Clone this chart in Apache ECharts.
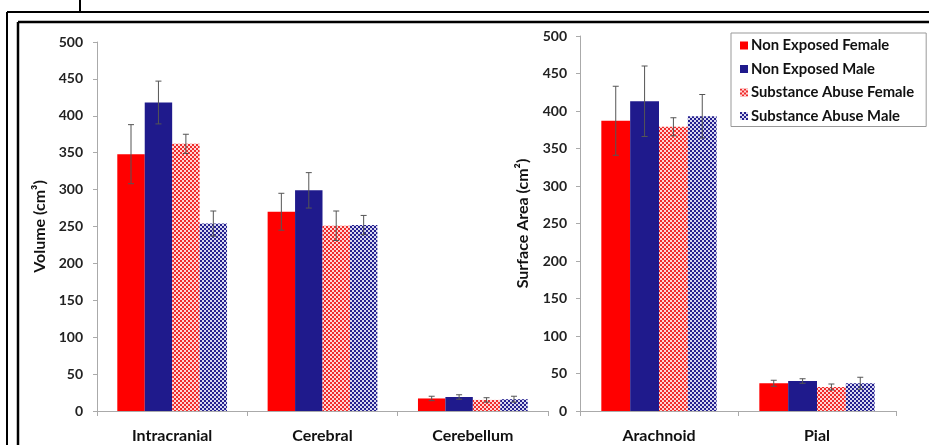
<!DOCTYPE html>
<html>
<head>
<meta charset="utf-8">
<script src="https://cdn.jsdelivr.net/npm/echarts@6/dist/echarts.min.js"></script>
<style>
html,body{margin:0;padding:0;background:#fff;}
#c{width:929px;height:445px;}
</style>
</head>
<body>
<div id="c"></div>
<script>
// ---- data ----
var volumeCategories = ['Intracranial', 'Cerebral', 'Cerebellum'];
var surfaceCategories = ['Arachnoid', 'Pial'];
var seriesNames = ['Non Exposed Female', 'Non Exposed Male', 'Substance Abuse Female', 'Substance Abuse Male'];

var volNonExposedFemale = [348, 270, 17];
var volNonExposedMale = [418, 299, 19];
var volAbuseFemale = [362, 251, 15];
var volAbuseMale = [254, 252, 16];
var volErrNonExposedFemale = [40, 25, 3];
var volErrNonExposedMale = [29, 24, 3];
var volErrAbuseFemale = [13, 20, 3];
var volErrAbuseMale = [17, 13, 4];

var areaNonExposedFemale = [387, 37];
var areaNonExposedMale = [413, 40];
var areaAbuseFemale = [379, 32];
var areaAbuseMale = [393, 37];
var areaErrNonExposedFemale = [46, 4];
var areaErrNonExposedMale = [47, 3];
var areaErrAbuseFemale = [12, 4];
var areaErrAbuseMale = [29, 8];

var yTicks = [0, 50, 100, 150, 200, 250, 300, 350, 400, 450, 500];

// ---- patterns ----
function checker(col, light) {
  var c = document.createElement('canvas');
  c.width = 4; c.height = 4;
  var g = c.getContext('2d');
  g.fillStyle = light; g.fillRect(0, 0, 4, 4);
  g.fillStyle = col; g.fillRect(0, 0, 2, 2); g.fillRect(2, 2, 2, 2);
  return c;
}
var RED = '#ff0000', BLUE = '#1f1a8c';
var fills = [RED, BLUE,
  { image: checker('#f02c2c', '#ffd6d6'), repeat: 'repeat' },
  { image: checker('#25208f', '#d8d8f0'), repeat: 'repeat' }];

var GAP = 0.27;
var FONT = 'Lato, "Open Sans", sans-serif';

function barSeries(name, idx, data, gi) {
  return {
    type: 'bar', name: name, xAxisIndex: gi, yAxisIndex: gi,
    data: data, barGap: '0%', barCategoryGap: (GAP * 100) + '%',
    itemStyle: { color: fills[idx] }, emphasis: { disabled: true },
    z: 2
  };
}
function errSeries(idx, vals, errs, gi) {
  var d = vals.map(function (v, i) { return [i, v - errs[i], v + errs[i]]; });
  return {
    type: 'custom', xAxisIndex: gi, yAxisIndex: gi, z: 5, silent: true,
    data: d,
    renderItem: function (params, api) {
      var ci = api.value(0);
      var lo = api.coord([ci, api.value(1)]);
      var hi = api.coord([ci, api.value(2)]);
      var band = api.size([1, 0])[0];
      var gw = band * (1 - GAP);
      var bw = gw / 4;
      var x = lo[0] - gw / 2 + bw * (idx + 0.5);
      var cap = 3;
      var st = { stroke: '#555', lineWidth: 1 };
      return { type: 'group', children: [
        { type: 'line', shape: { x1: x, y1: lo[1], x2: x, y2: hi[1] }, style: st },
        { type: 'line', shape: { x1: x - cap, y1: lo[1], x2: x + cap, y2: lo[1] }, style: st },
        { type: 'line', shape: { x1: x - cap, y1: hi[1], x2: x + cap, y2: hi[1] }, style: st }
      ]};
    }
  };
}

var volVals = [volNonExposedFemale, volNonExposedMale, volAbuseFemale, volAbuseMale];
var volErrs = [volErrNonExposedFemale, volErrNonExposedMale, volErrAbuseFemale, volErrAbuseMale];
var areaVals = [areaNonExposedFemale, areaNonExposedMale, areaAbuseFemale, areaAbuseMale];
var areaErrs = [areaErrNonExposedFemale, areaErrNonExposedMale, areaErrAbuseFemale, areaErrAbuseMale];

var series = [];
seriesNames.forEach(function (n, i) { series.push(barSeries(n, i, volVals[i], 0)); });
seriesNames.forEach(function (n, i) { series.push(barSeries(n, i, areaVals[i], 1)); });
seriesNames.forEach(function (n, i) { series.push(errSeries(i, volVals[i], volErrs[i], 0)); });
seriesNames.forEach(function (n, i) { series.push(errSeries(i, areaVals[i], areaErrs[i], 1)); });

function xAxis(cats, gi) {
  return {
    type: 'category', gridIndex: gi, data: cats,
    axisLine: { lineStyle: { color: '#aaa', width: 1 } },
    axisTick: { show: true, length: 5, lineStyle: { color: '#aaa' } },
    axisLabel: { color: '#111', fontFamily: FONT, fontWeight: 'bold', fontSize: 16, margin: 17 }
  };
}
function yAxis(name, gi, gap, margin) {
  return {
    type: 'value', gridIndex: gi, min: yTicks[0], max: yTicks[yTicks.length - 1],
    interval: yTicks[1] - yTicks[0],
    name: name, nameLocation: 'middle', nameGap: gap,
    nameTextStyle: { color: '#111', fontFamily: FONT, fontWeight: 'bold', fontSize: 16 },
    axisLine: { show: true, lineStyle: { color: '#aaa', width: 1 } },
    axisTick: { show: true, length: 4, lineStyle: { color: '#aaa' } },
    splitLine: { show: false },
    axisLabel: { color: '#222', fontFamily: FONT, fontWeight: 'bold', fontSize: 14, margin: margin }
  };
}

var chart = echarts.init(document.getElementById('c'), null, { renderer: 'canvas' });
chart.setOption({
  animation: false,
  backgroundColor: '#fff',
  grid: [
    { left: 97, top: 42, width: 451, height: 369 },
    { left: 580, top: 36, width: 316, height: 375 }
  ],
  xAxis: [xAxis(volumeCategories, 0), xAxis(surfaceCategories, 1)],
  yAxis: [yAxis('Volume (cm³)', 0, 49, 14), yAxis('Surface Area (cm²)', 1, 49, 13)],
  legend: {
    data: seriesNames, orient: 'vertical', left: 731, top: 33,
    itemWidth: 8, itemHeight: 8, itemGap: 8.5,
    icon: 'rect', backgroundColor: '#fff', borderColor: '#999', borderWidth: 1,
    padding: [5, 12, 3, 9],
    textStyle: { color: '#111', fontFamily: FONT, fontWeight: 'bold', fontSize: 14.8, padding: [0, 0, 0, -2] },
    selectedMode: false
  },
  graphic: [
    { type: 'line', shape: { x1: 80, y1: 0, x2: 80, y2: 12 }, style: { stroke: '#000', lineWidth: 2 } },
    { type: 'line', shape: { x1: 7, y1: 12, x2: 929, y2: 12 }, style: { stroke: '#000', lineWidth: 2 } },
    { type: 'line', shape: { x1: 7, y1: 12, x2: 7, y2: 445 }, style: { stroke: '#000', lineWidth: 2 } },
    { type: 'line', shape: { x1: 18, y1: 22, x2: 929, y2: 22 }, style: { stroke: '#000', lineWidth: 2.5 } },
    { type: 'line', shape: { x1: 18, y1: 22, x2: 18, y2: 445 }, style: { stroke: '#000', lineWidth: 2.5 } }
  ],
  series: series
});
</script>
</body>
</html>
